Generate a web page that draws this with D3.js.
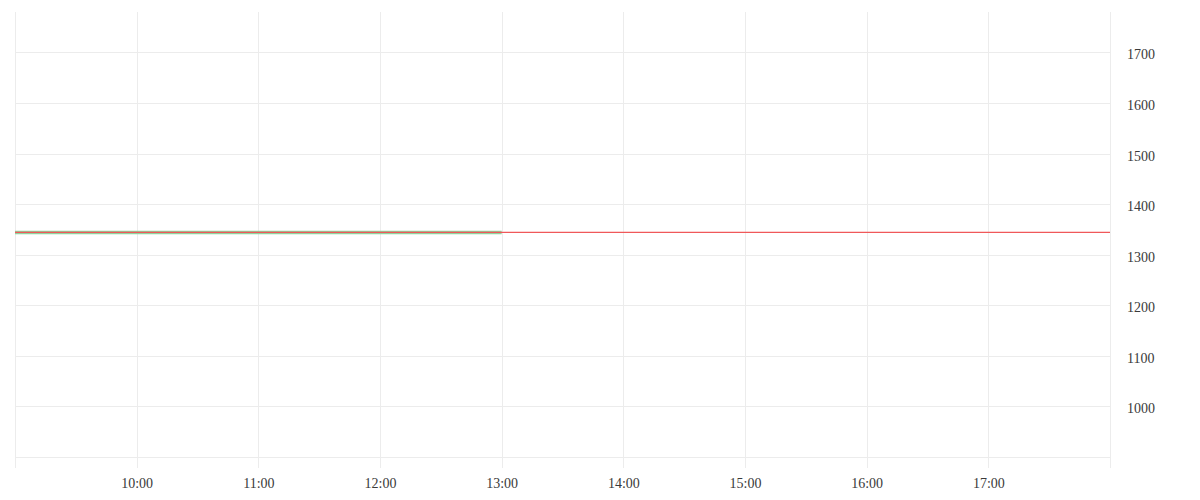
<!DOCTYPE html>
<html><head><meta charset="utf-8">
<script src="https://cdn.jsdelivr.net/npm/d3@7"></script>
<style>html,body{margin:0;padding:0;background:#fff;}svg{display:block;}</style>
</head><body>
<svg id="c" width="1200" height="500"></svg>
<script>
const xTickLabels = ["09:00","10:00","11:00","12:00","13:00","14:00","15:00","16:00","17:00","18:00"];
const xTickShown = ["10:00","11:00","12:00","13:00","14:00","15:00","16:00","17:00"];
const yTickValues = [900,1000,1100,1200,1300,1400,1500,1600,1700];
const yTickShown = [1000,1100,1200,1300,1400,1500,1600,1700];
const priceTimes = ["09:00","10:00","11:00","12:00","13:00"];
const priceValues = [1344,1344,1344,1344,1344];
const refTimes = ["09:00","18:00"];
const refValues = [1344,1344];
const yDomain = [878,1780];

const parse = d3.timeParse("%H:%M");
const svg = d3.select("#c");
const L = 15, R = 1110, T = 12, B = 468;
const x = d3.scaleTime().domain([parse("09:00"), parse("18:00")]).range([L, R]);
const y = d3.scaleLinear().domain(yDomain).range([B, T]);
const font = "'Liberation Serif', 'Times New Roman', serif";

// grid
const g = svg.append("g");
g.selectAll("line.v").data(xTickLabels).join("line")
  .attr("x1", d => Math.round(x(parse(d))) + 0.5).attr("x2", d => Math.round(x(parse(d))) + 0.5)
  .attr("y1", T).attr("y2", B).attr("stroke", "#ececec").attr("stroke-width", 1);
g.selectAll("line.h").data(yTickValues).join("line")
  .attr("x1", L).attr("x2", R)
  .attr("y1", d => Math.round(y(d)) + 0.5).attr("y2", d => Math.round(y(d)) + 0.5)
  .attr("stroke", "#ececec").attr("stroke-width", 1);

// axes (labels only)
const xAxis = d3.axisBottom(x).tickValues(xTickShown.map(parse)).tickFormat(d3.timeFormat("%H:%M")).tickSize(0).tickPadding(0);
const xa = svg.append("g").attr("transform", `translate(0,${B + 10})`).call(xAxis);
xa.select(".domain").remove();
xa.selectAll("text").attr("font-family", font).attr("font-size", 14).attr("fill", "#3a3a3a").attr("dy", "0.71em");

const yAxis = d3.axisRight(y).tickValues(yTickShown).tickFormat(d3.format("d")).tickSize(0).tickPadding(0);
const ya = svg.append("g").attr("transform", `translate(${R + 17},2)`).call(yAxis);
ya.select(".domain").remove();
ya.selectAll("text").attr("font-family", font).attr("font-size", 14).attr("fill", "#3a3a3a");

// series
const line = d3.line().x(d => x(parse(d[0]))).y(d => y(d[1]));
svg.append("path").datum(priceTimes.map((t, i) => [t, priceValues[i]]))
  .attr("d", line).attr("fill", "none").attr("stroke", "#8fd39e").attr("stroke-width", 3.5);
svg.append("path").datum(refTimes.map((t, i) => [t, refValues[i]]))
  .attr("d", line).attr("fill", "none").attr("stroke", "#f0585a").attr("stroke-width", 1.3);
</script>
</body></html>
